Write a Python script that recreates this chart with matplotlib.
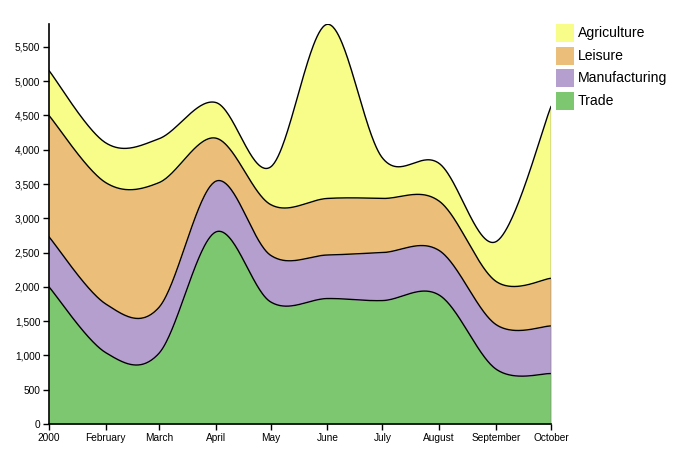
import numpy as np
import matplotlib
matplotlib.use('Agg')
import matplotlib.pyplot as plt
import matplotlib.dates as mdates
from matplotlib.patches import Rectangle
from matplotlib.ticker import FuncFormatter, MultipleLocator
from datetime import datetime

plt.rcParams['font.family'] = ['Liberation Sans', 'DejaVu Sans']

# ---- data ----
months = [datetime(2000, m, 1) for m in range(1, 11)]
tick_labels = ['2000', 'February', 'March', 'April', 'May', 'June',
               'July', 'August', 'September', 'October']
series_names = ['Trade', 'Manufacturing', 'Leisure', 'Agriculture']
trade = [2000, 1040, 1030, 2800, 1780, 1830, 1800, 1880, 800, 735]
manufacturing = [730, 710, 670, 740, 680, 635, 700, 650, 650, 695]
leisure = [1770, 1770, 1820, 630, 740, 825, 790, 720, 630, 695]
agriculture = [655, 580, 640, 520, 550, 2540, 590, 550, 580, 2505]
colors = {'Trade': '#7ec771', 'Manufacturing': '#b59fcf',
          'Leisure': '#ebbe79', 'Agriculture': '#f7fd88'}
values = {'Trade': trade, 'Manufacturing': manufacturing,
          'Leisure': leisure, 'Agriculture': agriculture}


def cardinal(xs, ys, n=60):
    """d3.curveCardinal (tension 0 -> Catmull-Rom) sampled."""
    xs = np.asarray(xs, float)
    ys = np.asarray(ys, float)
    k = 1.0 / 6.0
    px = np.concatenate([[xs[0]], xs, [xs[-1]]])
    py = np.concatenate([[ys[0]], ys, [ys[-1]]])
    ox, oy = [], []
    t = np.linspace(0, 1, n, endpoint=False)
    for i in range(1, len(px) - 2):
        x0, x1, x2, x3 = px[i - 1], px[i], px[i + 1], px[i + 2]
        y0, y1, y2, y3 = py[i - 1], py[i], py[i + 1], py[i + 2]
        c1x, c1y = x1 + k * (x2 - x0), y1 + k * (y2 - y0)
        c2x, c2y = x2 + k * (x1 - x3), y2 + k * (y1 - y3)
        b0 = (1 - t) ** 3
        b1 = 3 * (1 - t) ** 2 * t
        b2 = 3 * (1 - t) * t ** 2
        b3 = t ** 3
        ox.append(b0 * x1 + b1 * c1x + b2 * c2x + b3 * x2)
        oy.append(b0 * y1 + b1 * c1y + b2 * c2y + b3 * y2)
    ox.append([xs[-1]])
    oy.append([ys[-1]])
    return np.concatenate(ox), np.concatenate(oy)


W, H = 677, 465
fig = plt.figure(figsize=(W / 100, H / 100), dpi=100)
left, right, bottom, top = 49, 551, 424, 24.3
ax = fig.add_axes([left / W, (H - bottom) / H, (right - left) / W, (bottom - top) / H])

xnum = mdates.date2num(months)
cum = np.zeros(len(months))
lower_curve = None
for name in series_names:
    cum = cum + np.asarray(values[name], float)
    xc, yc = cardinal(xnum, cum)
    low = np.zeros_like(yc) if lower_curve is None else lower_curve
    ax.fill_between(xc, low, yc, color=colors[name], lw=0, zorder=1)
    ax.plot(xc, yc, color='black', lw=1.0, zorder=2)
    lower_curve = yc

ax.plot([xnum[-1], xnum[-1]], [0, cum[-1]], color='#666666', lw=1.0, zorder=2)

ax.set_xlim(xnum[0], xnum[-1])
ax.set_ylim(0, cum.max())
ax.set_xticks(xnum)
ax.set_xticklabels(tick_labels)
ax.yaxis.set_major_locator(MultipleLocator(500))
ax.yaxis.set_major_formatter(FuncFormatter(lambda v, p: f'{int(v):,}'))
ax.tick_params(axis='both', length=4.3, width=1, labelsize=7.3, colors='black', pad=2)
for s in ['top', 'right']:
    ax.spines[s].set_visible(False)
for s in ['left', 'bottom']:
    ax.spines[s].set_linewidth(1.2)
    ax.spines[s].set_zorder(3)

# legend
legend_order = ['Agriculture', 'Leisure', 'Manufacturing', 'Trade']
for i, name in enumerate(legend_order):
    y_top = 24 + i * 22.7
    fig.patches.append(Rectangle((556 / W, (H - y_top - 18) / H), 18 / W, 18 / H,
                                 transform=fig.transFigure, facecolor=colors[name],
                                 edgecolor='none'))
    fig.text(578 / W, (H - y_top - 9) / H, name, fontsize=10.1, va='center',
             ha='left', color='black')

fig.savefig('out.png', dpi=100)
